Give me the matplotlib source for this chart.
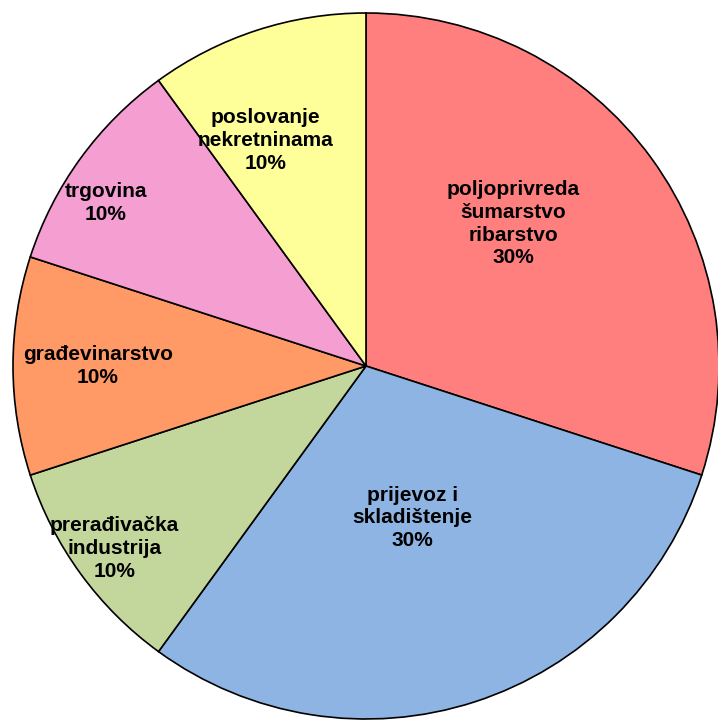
import numpy as np
import matplotlib
matplotlib.use('Agg')
import matplotlib.pyplot as plt

sectors = ['poljoprivreda\nšumarstvo\nribarstvo', 'prijevoz i\nskladištenje',
           'prerađivačka\nindustrija', 'građevinarstvo', 'trgovina',
           'poslovanje\nnekretninama']
shares = [30, 30, 10, 10, 10, 10]
colors = ['#FF7F7F', '#8EB4E3', '#C3D69B', '#FF9966', '#F49ED2', '#FFFF99']

# label distance from centre (fraction of radius), per slice
label_r = [0.58, 0.45, 0.88, 0.76, 0.87, 0.70]
label_shift = [8, -1, 0, 0, 4, 6]  # degrees of extra rotation

fig = plt.figure(figsize=(7.18, 7.2), dpi=100)
ax = fig.add_axes([13 / 718, 1 / 720, 706 / 718, 706 / 720])

labels = ['%s\n%d%%' % (s, v) for s, v in zip(sectors, shares)]
wedges, texts = ax.pie(shares, colors=colors, startangle=90, counterclock=False,
                       labels=labels, labeldistance=0.6,
                       wedgeprops=dict(edgecolor='black', linewidth=1.2),
                       textprops=dict(fontsize=15, fontweight='bold',
                                      family='Liberation Sans', color='black',
                                      linespacing=1.25))

for w, t, r, s in zip(wedges, texts, label_r, label_shift):
    ang = np.deg2rad((w.theta1 + w.theta2) / 2 + s)
    t.set_position((r * np.cos(ang), r * np.sin(ang)))
    t.set_ha('center')
    t.set_va('center')
    t.set_multialignment('center')

for w in wedges:
    w.set_clip_on(False)

ax.set_xlim(-1, 1)
ax.set_ylim(-1, 1)
ax.set_aspect('equal')
ax.set_axis_off()

fig.savefig('out.png', dpi=100)
